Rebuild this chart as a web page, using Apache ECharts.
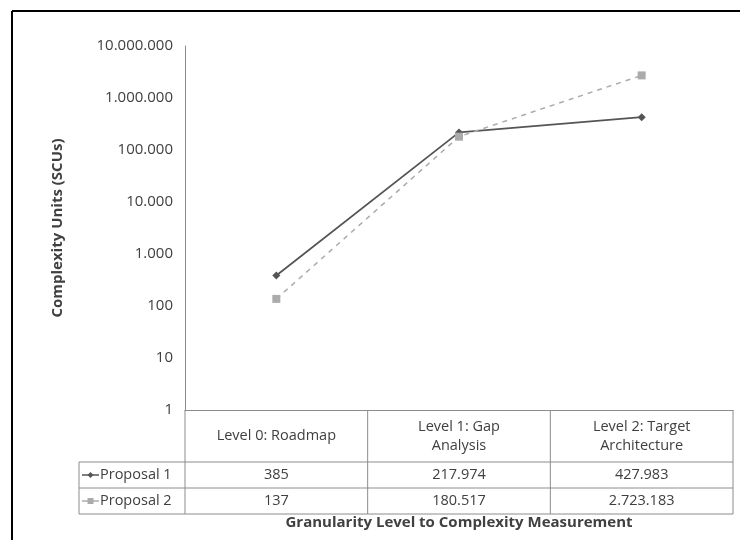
<!DOCTYPE html>
<html>
<head>
<meta charset="utf-8">
<script src="https://cdn.jsdelivr.net/npm/echarts@6/dist/echarts.min.js"></script>
<style>
html,body{margin:0;padding:0;background:#fff;}
#chart{width:740px;height:540px;}
</style>
</head>
<body>
<div id="chart"></div>
<script>
var categories = ['Level 0: Roadmap', 'Level 1: Gap\nAnalysis', 'Level 2: Target\nArchitecture'];
var seriesNames = ['Proposal 1', 'Proposal 2'];
var proposal1 = [385, 217974, 427983];
var proposal2 = [137, 180517, 2723183];
var yTicks = [1, 10, 100, 1000, 10000, 100000, 1000000, 10000000];
var yTitle = 'Complexity Units (SCUs)';
var xTitle = 'Granularity Level to Complexity Measurement';

var FONT = 'Open Sans';
var TXT = '#404040';
var colors = ['#555555', '#ababab'];

function fmt(v) {
  return String(Math.round(v)).replace(/\B(?=(\d{3})+(?!\d))/g, '.');
}

var chart = echarts.init(document.getElementById('chart'), null, {renderer: 'canvas'});

var option = {
  backgroundColor: '#fff',
  animation: false,
  grid: {left: 185, right: 7, top: 46, bottom: 130, containLabel: false},
  xAxis: {
    type: 'category',
    data: categories,
    boundaryGap: true,
    axisLine: {show: true, lineStyle: {color: '#8c8c8c', width: 1}},
    axisTick: {show: false},
    axisLabel: {show: false},
    splitLine: {show: false}
  },
  yAxis: {
    type: 'log',
    logBase: 10,
    min: yTicks[0],
    max: yTicks[yTicks.length - 1],
    interval: 1,
    axisLine: {show: true, lineStyle: {color: '#8c8c8c', width: 1}},
    axisTick: {show: false},
    splitLine: {show: false},
    axisLabel: {
      color: TXT, fontFamily: FONT, fontSize: 15, margin: 12,
      formatter: function (v) { return fmt(v); }
    },
    name: yTitle,
    nameLocation: 'middle',
    nameGap: 120,
    nameTextStyle: {color: TXT, fontFamily: FONT, fontSize: 15, fontWeight: 'bold'}
  },
  series: [
    {
      name: seriesNames[0], type: 'line', data: proposal1,
      symbol: 'diamond', symbolSize: 8,
      lineStyle: {color: colors[0], width: 1.75},
      itemStyle: {color: colors[0]}
    },
    {
      name: seriesNames[1], type: 'line', data: proposal2,
      symbol: 'rect', symbolSize: 8,
      lineStyle: {color: colors[1], width: 1.5, type: [5, 5]},
      itemStyle: {color: colors[1]}
    }
  ]
};
chart.setOption(option);

// Build the data table below the plot using the axis pixel positions
var yBase = chart.convertToPixel({yAxisIndex: 0}, 1);
var c0 = chart.convertToPixel({xAxisIndex: 0}, 0);
var c1 = chart.convertToPixel({xAxisIndex: 0}, 1);
var band = c1 - c0;
var headerBottom = yBase + 52;
var row1Bottom = headerBottom + 26;
var row2Bottom = row1Bottom + 26;
var leftEdge = c0 - band / 2;
var rightEdge = chart.convertToPixel({xAxisIndex: 0}, categories.length - 1) + band / 2;
var legendLeft = 79;
var lineColor = '#8c8c8c';

var g = [];
function hline(x1, x2, y) {
  g.push({type: 'line', shape: {x1: x1, y1: y, x2: x2, y2: y}, style: {stroke: lineColor, lineWidth: 1}, silent: true});
}
function vline(x, y1, y2) {
  g.push({type: 'line', shape: {x1: x, y1: y1, x2: x, y2: y2}, style: {stroke: lineColor, lineWidth: 1}, silent: true});
}
function text(str, x, y, opts) {
  g.push({type: 'text', x: x, y: y, style: Object.assign({
    text: str, fill: TXT, font: '14.5px "' + FONT + '"', align: 'center', verticalAlign: 'middle', lineHeight: 19
  }, opts || {}), silent: true});
}

hline(leftEdge, rightEdge, headerBottom);
hline(legendLeft, rightEdge, row1Bottom);
hline(legendLeft, rightEdge, row2Bottom);
hline(legendLeft, leftEdge, headerBottom);
vline(legendLeft, headerBottom, row2Bottom);
for (var i = 0; i <= categories.length; i++) {
  vline(leftEdge + band * i, yBase, row2Bottom);
}
var rows = [proposal1, proposal2];
for (var i = 0; i < categories.length; i++) {
  var cx = chart.convertToPixel({xAxisIndex: 0}, i);
  text(categories[i], cx, (yBase + headerBottom) / 2);
  text(fmt(rows[0][i]), cx, (headerBottom + row1Bottom) / 2);
  text(fmt(rows[1][i]), cx, (row1Bottom + row2Bottom) / 2);
}
var rowMids = [(headerBottom + row1Bottom) / 2, (row1Bottom + row2Bottom) / 2];
for (var s = 0; s < 2; s++) {
  var ym = rowMids[s];
  g.push({type: 'line', shape: {x1: legendLeft + 3, y1: ym, x2: legendLeft + 20, y2: ym},
    style: {stroke: colors[s], lineWidth: 1.5}, silent: true});
  if (s === 0) {
    g.push({type: 'polygon', shape: {points: [[legendLeft + 11.5, ym - 3], [legendLeft + 14.5, ym], [legendLeft + 11.5, ym + 3], [legendLeft + 8.5, ym]]},
      style: {fill: colors[s]}, silent: true});
  } else {
    g.push({type: 'rect', shape: {x: legendLeft + 8.5, y: ym - 3, width: 6, height: 6}, style: {fill: colors[s]}, silent: true});
  }
  text(seriesNames[s], legendLeft + 21, ym, {align: 'left'});
}
text(xTitle, (leftEdge + rightEdge) / 2, row2Bottom + 9, {font: 'bold 15px "' + FONT + '"'});

// outer frame (top and left edges visible)
g.push({type: 'line', shape: {x1: 12, y1: 11, x2: 740, y2: 11}, style: {stroke: '#000', lineWidth: 2}, silent: true});
g.push({type: 'line', shape: {x1: 12, y1: 11, x2: 12, y2: 540}, style: {stroke: '#000', lineWidth: 2}, silent: true});

chart.setOption({graphic: {elements: g}});
</script>
</body>
</html>
